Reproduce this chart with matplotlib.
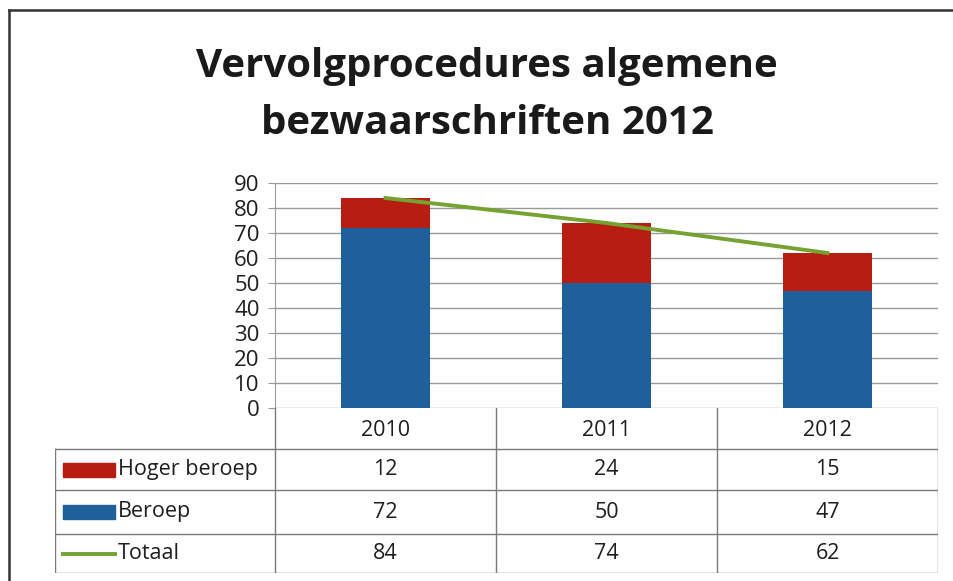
import numpy as np
import matplotlib
matplotlib.use("Agg")
import matplotlib.pyplot as plt
from matplotlib.patches import Rectangle
from matplotlib.lines import Line2D

plt.rcParams['font.family'] = ['Open Sans', 'DejaVu Sans']

# -- data --
years = ['2010', '2011', '2012']
beroep = [72, 50, 47]
hoger_beroep = [12, 24, 15]
totaal = [84, 74, 62]
series_names = ['Hoger beroep', 'Beroep', 'Totaal']
yticks = list(range(0, 91, 10))

RED = '#B81D12'
BLUE = '#1F609B'
GREEN = '#76A232'
GRID = '#9A9A9A'
TXT = '#1e1e1e'

W, H = 954, 581
fig = plt.figure(figsize=(W / 100, H / 100), dpi=100)

def fx(px):
    return px / W

def fy(py):
    return 1 - py / H

# outer frame (left + top)
fig.add_artist(Line2D([fx(9), fx(9)], [fy(10), 0], color='#333333', lw=1.8))
fig.add_artist(Line2D([fx(9), 1], [fy(10), fy(10)], color='#333333', lw=1.8))

# title
fig.text(fx(487), fy(66), 'Vervolgprocedures algemene', ha='center', va='center',
         fontsize=29, fontweight='bold', color='#1a1a1a')
fig.text(fx(487), fy(124), 'bezwaarschriften 2012', ha='center', va='center',
         fontsize=29, fontweight='bold', color='#1a1a1a')

# -- main chart --
x0, x1 = 275, 938
ytop, ybot = 183, 408
ax = fig.add_axes([fx(x0), fy(ybot), fx(x1 - x0), (ybot - ytop) / H])
x = np.arange(len(years))
ax.bar(x, beroep, width=0.4, color=BLUE, zorder=2)
ax.bar(x, hoger_beroep, width=0.4, bottom=beroep, color=RED, zorder=2)
ax.plot(x, totaal, color=GREEN, lw=2.8, zorder=3)
ax.set_xlim(-0.5, 2.5)
ax.set_ylim(0, 90)
ax.set_yticks(yticks)
ax.set_yticklabels([str(v) for v in yticks], fontsize=16, color=TXT)
ax.set_xticks([])
ax.grid(axis='y', color=GRID, lw=1, zorder=0)
for s in ['top', 'right', 'bottom']:
    ax.spines[s].set_visible(False)
ax.spines['left'].set_color(GRID)
ax.tick_params(axis='y', length=5, color=GRID, pad=6)

# -- data table below --
tl = 55
xscale = (x1 - x0) / 3.0
tax_left = -0.5 - (x0 - tl) / xscale
tab_bot = 573
tax = fig.add_axes([fx(tl), fy(tab_bot), fx(x1 - tl), (tab_bot - ybot) / H])
tax.set_xlim(tax_left, 2.5)
tax.set_ylim(tab_bot, ybot)
tax.axis('off')
row_lines = [449, 490, 534, 573]
lc = '#7a7a7a'
for yl in row_lines:
    tax.plot([tax_left, 2.5], [yl, yl], color=lc, lw=1)
for xv in [-0.5, 0.5, 1.5, 2.5]:
    tax.plot([xv, xv], [ybot, tab_bot], color=lc, lw=1)
tax.plot([tax_left, tax_left], [row_lines[0], tab_bot], color=lc, lw=1)

# header
for i, yr in enumerate(years):
    tax.text(i, (ybot + row_lines[0]) / 2 + 2, yr, ha='center', va='center',
             fontsize=15.5, color=TXT)

rows = [hoger_beroep, beroep, totaal]
centers = [(row_lines[k] + row_lines[k + 1]) / 2 for k in range(3)]
pw = 52 / xscale
px0 = tax_left + 8 / xscale
for k, (name, vals) in enumerate(zip(series_names, rows)):
    yc = centers[k]
    if k < 2:
        tax.add_patch(Rectangle((px0, yc - 7), pw, 14, color=[RED, BLUE][k]))
    else:
        tax.plot([px0, px0 + pw], [yc, yc], color=GREEN, lw=2.8)
    tax.text(px0 + pw + 3 / xscale, yc, name, ha='left', va='center',
             fontsize=15.5, color=TXT)
    for i, v in enumerate(vals):
        tax.text(i, yc, str(v), ha='center', va='center', fontsize=15.5, color=TXT)

fig.savefig('out.png', dpi=100)
